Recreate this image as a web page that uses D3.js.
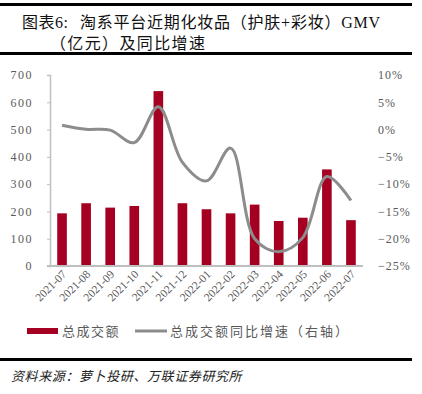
<!DOCTYPE html>
<html lang="zh">
<head>
<meta charset="UTF-8">
<title>淘系平台近期化妆品GMV</title>
<script src="https://d3js.org/d3.v7.min.js"></script>
<style>
  body { margin: 0; background: #fff; }
  svg { display: block; }
</style>
</head>
<body>
<svg id="chart" width="422" height="394"></svg>
<script>
// data
const months = ["2021-07","2021-08","2021-09","2021-10","2021-11","2021-12",
  "2022-01","2022-02","2022-03","2022-04","2022-05","2022-06","2022-07"];
const gmv = [193, 230, 214, 220, 641, 230, 208, 193, 225, 165, 177, 354, 168];
const yoy = [0.8, 0.05, -0.1, -2.4, 4.2, -6.0, -9.4, -3.4, -20.0, -22.4, -19.8, -8.6, -13.0];
const leftTicks = [0, 100, 200, 300, 400, 500, 600, 700];
const rightTicks = [-25, -20, -15, -10, -5, 0, 5, 10];

const svg = d3.select("#chart");
const serif = "'Liberation Serif', 'Noto Sans CJK SC', serif";
const cjk = "'Noto Sans CJK SC', sans-serif";
const grey = "#595959";

// title block
svg.append("rect").attr("x", 0).attr("y", 3).attr("width", 412).attr("height", 3).attr("fill", "#000");
svg.append("rect").attr("x", 0).attr("y", 52).attr("width", 412).attr("height", 3).attr("fill", "#000");
const title = svg.append("g").attr("font-family", serif).attr("font-size", 16).attr("fill", "#111");
title.append("text").attr("x", 22).attr("y", 28)
  .attr("textLength", 46).attr("lengthAdjust", "spacing").text("图表6:");
title.append("text").attr("x", 80).attr("y", 28)
  .attr("textLength", 300).attr("lengthAdjust", "spacing").text("淘系平台近期化妆品（护肤+彩妆）GMV");
title.append("text").attr("x", 50).attr("y", 49)
  .attr("textLength", 155).attr("lengthAdjust", "spacing").text("（亿元）及同比增速");

// plot area
const pL = 50, pR = 363, pT = 75, pB = 266;

const x = d3.scaleBand().domain(months).range([pL, pR]).paddingInner(0.6).paddingOuter(0.3);
const y = d3.scaleLinear().domain([0, 700]).range([pB, pT]);
const y2 = d3.scaleLinear().domain([-25, 10]).range([pB, pT]);

// bars
svg.append("g").selectAll("rect").data(months).join("rect")
  .attr("x", d => x(d))
  .attr("width", x.bandwidth())
  .attr("y", (d, i) => y(gmv[i]))
  .attr("height", (d, i) => pB - y(gmv[i]))
  .attr("fill", "#a50021");

// left axis
const la = svg.append("g").attr("transform", `translate(${pL},0)`)
  .call(d3.axisLeft(y).tickValues(leftTicks).tickSize(3).tickPadding(14));
la.select(".domain").attr("stroke", "#bfbfbf").attr("stroke-width", 1.5);
la.selectAll(".tick line").attr("stroke", "#bfbfbf");
la.selectAll("text").attr("font-family", serif).attr("font-size", 12).attr("fill", grey)
  .attr("letter-spacing", 1.5);

// x axis
const xa = svg.append("g").attr("transform", `translate(0,${pB})`)
  .call(d3.axisBottom(x).tickSize(0).tickSizeOuter(0));
xa.select(".domain").attr("d", `M${pL - 3},0H${pR}`).attr("stroke", "#bfbfbf").attr("stroke-width", 2);
xa.selectAll("text")
  .attr("font-family", serif).attr("font-size", 11.5).attr("fill", grey)
  .attr("text-anchor", "end")
  .attr("dy", null).attr("y", 0)
  .attr("transform", "translate(5,9) rotate(-45)");

// right axis labels
const ra = svg.append("g").attr("transform", `translate(${pR + 12},0)`)
  .call(d3.axisRight(y2).tickValues(rightTicks).tickSize(0).tickFormat(d => (d < 0 ? "−" + (-d) : d) + "%"));
ra.select(".domain").remove();
ra.selectAll("text").attr("font-family", serif).attr("font-size", 12).attr("fill", grey)
  .attr("letter-spacing", 1);

// yoy line
const line = d3.line()
  .x((d, i) => x(months[i]) + x.bandwidth() / 2)
  .y(d => y2(d))
  .curve(d3.curveCatmullRom.alpha(0.5));
svg.append("path").datum(yoy)
  .attr("d", line)
  .attr("fill", "none")
  .attr("stroke", "#8c8c8c")
  .attr("stroke-width", 3);

// legend
const lg = svg.append("g").attr("font-family", cjk).attr("font-size", 13).attr("fill", grey);
lg.append("rect").attr("x", 27).attr("y", 328).attr("width", 31).attr("height", 6).attr("fill", "#a50021");
lg.append("text").attr("x", 62).attr("y", 336).attr("letter-spacing", 1.5).text("总成交额");
lg.append("line").attr("x1", 135).attr("x2", 167).attr("y1", 331).attr("y2", 331)
  .attr("stroke", "#8c8c8c").attr("stroke-width", 3);
lg.append("text").attr("x", 170).attr("y", 336).attr("letter-spacing", 2).text("总成交额同比增速（右轴）");

// source
svg.append("rect").attr("x", 0).attr("y", 358).attr("width", 412).attr("height", 3).attr("fill", "#000");
svg.append("text").attr("x", 11).attr("y", 381)
  .attr("font-family", cjk).attr("font-size", 13).attr("font-style", "italic").attr("fill", "#222")
  .attr("letter-spacing", 0.6)
  .text("资料来源：萝卜投研、万联证券研究所");
</script>
</body>
</html>
